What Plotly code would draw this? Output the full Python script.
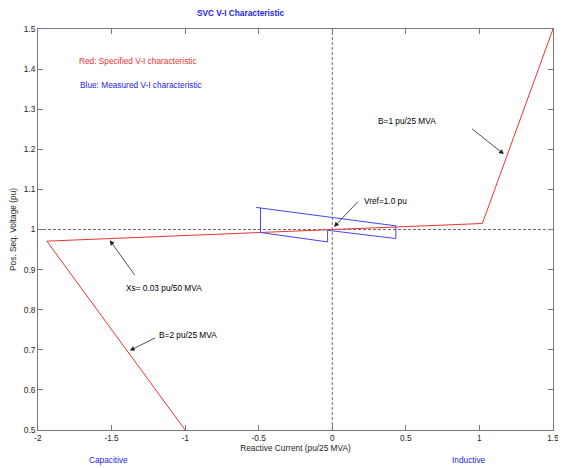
import plotly.graph_objects as go

# Specified V-I characteristic (red)
spec_i = [-1.0, -1.94, 1.02, 1.5]
spec_v = [0.5, 0.971, 1.015, 1.5]

# Measured V-I characteristic (blue)
meas_i = [-0.488, -0.488, -0.032, -0.032, 0.432, 0.432, -0.517]
meas_v = [1.054, 0.9925, 0.969, 0.998, 0.9775, 1.009, 1.055]

x_ticks = [-2, -1.5, -1, -0.5, 0, 0.5, 1, 1.5]
x_labels = ["-2", "-1.5", "-1", "-0.5", "0", "0.5", "1", "1.5"]
y_ticks = [0.5, 0.6, 0.7, 0.8, 0.9, 1.0, 1.1, 1.2, 1.3, 1.4, 1.5]
y_labels = ["0.5", "0.6", "0.7", "0.8", "0.9", "1", "1.1", "1.2", "1.3", "1.4", "1.5"]

FONT = "Liberation Sans, Arial, sans-serif"
FS = 8.3
RED = "rgb(232,52,52)"
BLUE = "rgb(70,70,235)"
TXT_BLUE = "rgb(30,30,230)"
GRAY = "rgb(120,120,120)"

fig = go.Figure()

# reference dashed lines
fig.add_trace(go.Scatter(x=[-2, 1.5], y=[1, 1], mode="lines",
                         line=dict(color="rgb(110,110,110)", width=1, dash="3px,2px"),
                         hoverinfo="skip", showlegend=False))
fig.add_trace(go.Scatter(x=[0, 0], y=[0.5, 1.5], mode="lines",
                         line=dict(color="rgb(110,110,110)", width=1, dash="3px,2px"),
                         hoverinfo="skip", showlegend=False))

fig.add_trace(go.Scatter(x=spec_i, y=spec_v, mode="lines",
                         line=dict(color=RED, width=1), showlegend=False))
fig.add_trace(go.Scatter(x=meas_i, y=meas_v, mode="lines",
                         line=dict(color=BLUE, width=1), showlegend=False))

ann = []
arrows = [
    # head (x,y), tail (ax,ay)
    (1.166, 1.188, 0.940, 1.254),
    (0.012, 1.0065, 0.183, 1.073),
    (-1.512, 0.973, -1.336, 0.883),
    (-1.376, 0.698, -1.195, 0.7315),
]
for hx, hy, tx, ty in arrows:
    ann.append(dict(x=hx, y=hy, ax=tx, ay=ty, xref="x", yref="y", axref="x", ayref="y",
                    text="", showarrow=True, arrowhead=2, arrowsize=1.2, arrowwidth=0.8,
                    arrowcolor="rgb(30,30,30)"))

labels = [
    ("B=1 pu/25 MVA", 0.508, 1.2715, "center", "black"),
    ("Vref=1.0 pu", 0.36, 1.0715, "center", "black"),
    ("Xs= 0.03 pu/50 MVA", -1.146, 0.855, "center", "black"),
    ("B=2 pu/25 MVA", -0.98, 0.738, "center", "black"),
    ("Red: Specified V-I characteristic", -1.736, 1.42, "left", RED),
    ("Blue: Measured V-I characteristic", -1.73, 1.36, "left", TXT_BLUE),
]
for t, x, y, xa, c in labels:
    ann.append(dict(x=x, y=y, xref="x", yref="y", text=t, showarrow=False,
                    xanchor=xa, yanchor="middle", font=dict(family=FONT, size=FS, color=c)))

ann.append(dict(x=-0.62, y=1.039, xref="x", yref="paper", text="<b>SVC V-I Characteristic</b>",
                showarrow=False, xanchor="center", yanchor="middle",
                font=dict(family=FONT, size=FS, color=TXT_BLUE)))
ann.append(dict(x=-1.52, y=-0.075, xref="x", yref="paper", text="Capacitive",
                showarrow=False, xanchor="center", yanchor="middle",
                font=dict(family=FONT, size=FS, color=TXT_BLUE)))
ann.append(dict(x=0.93, y=-0.075, xref="x", yref="paper", text="Inductive",
                showarrow=False, xanchor="center", yanchor="middle",
                font=dict(family=FONT, size=FS, color=TXT_BLUE)))

# the page body has an 8px default margin, so margins compensate for it
fig.update_layout(
    width=566, height=468,
    margin=dict(l=30, r=21, t=21, b=46, autoexpand=False),
    paper_bgcolor="white", plot_bgcolor="white",
    font=dict(family=FONT, size=FS, color="rgb(30,30,30)"),
    annotations=ann,
    showlegend=False,
)
fig.update_xaxes(range=[-2, 1.5], tickvals=x_ticks, ticktext=x_labels,
                 ticks="inside", ticklen=5, tickcolor=GRAY, automargin=False,
                 showline=True, linecolor=GRAY, linewidth=1, mirror="allticks",
                 showgrid=False, zeroline=False,
                 title=dict(text="Reactive Current (pu/25 MVA)", standoff=2,
                            font=dict(family=FONT, size=FS)),
                 tickfont=dict(family=FONT, size=FS))
fig.update_yaxes(range=[0.5, 1.5], tickvals=y_ticks, ticktext=y_labels,
                 ticks="inside", ticklen=5, tickcolor=GRAY, automargin=False,
                 showline=True, linecolor=GRAY, linewidth=1, mirror="allticks",
                 showgrid=False, zeroline=False,
                 title=dict(text="Pos. Seq. Voltage (pu)", standoff=6,
                            font=dict(family=FONT, size=FS)),
                 tickfont=dict(family=FONT, size=FS))

fig.write_html("out.html")
